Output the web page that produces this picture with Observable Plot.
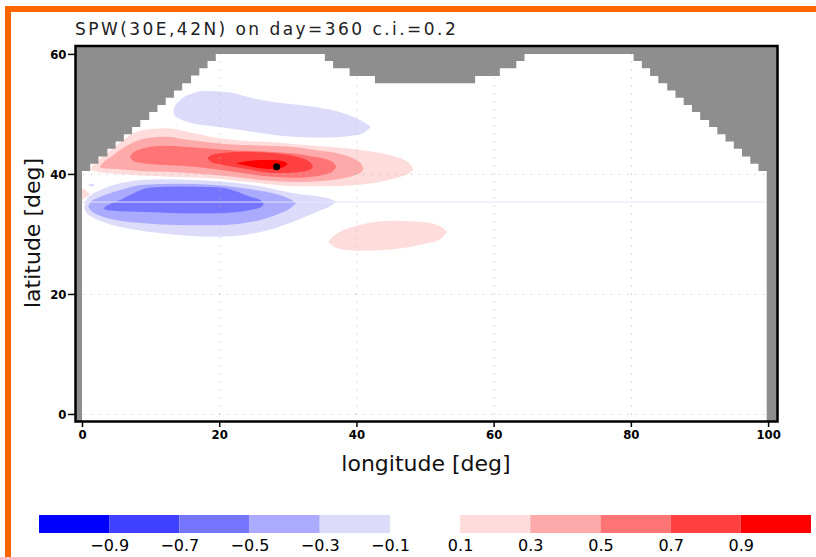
<!DOCTYPE html>
<html><head><meta charset="utf-8">
<script src="https://cdn.jsdelivr.net/npm/d3@7"></script>
<script src="https://cdn.jsdelivr.net/npm/@observablehq/plot@0.6"></script>
<style>
body{margin:0;background:#fff;}
#wrap{position:relative;width:816px;height:557px;overflow:hidden;background:#fff;font-family:"DejaVu Sans",sans-serif;}
#border{position:absolute;left:5px;top:6px;width:900px;height:700px;border-top:6px solid #ff6600;border-left:6px solid #ff6600;box-sizing:border-box;}
#title{position:absolute;left:75px;top:21px;font-size:17px;line-height:17px;letter-spacing:2.45px;color:#222;white-space:nowrap;}
#xlab{position:absolute;left:276px;width:300px;top:453px;font-size:22px;line-height:22px;text-align:center;color:#111;white-space:nowrap;}
#ylab{position:absolute;left:-67px;top:222px;width:200px;height:22px;font-size:22px;line-height:22px;text-align:center;color:#111;transform:rotate(-90deg);transform-origin:50% 50%;white-space:nowrap;}
#main{position:absolute;left:0;top:0;}
#cbar{position:absolute;left:0;top:503px;}
#main svg text{font-size:13px;font-weight:bold;}
</style></head>
<body><div id="wrap">
<div id="border"></div>
<div id="main"></div>
<div id="cbar"></div>
<div id="title">SPW(30E,42N) on day=360 c.i.=0.2</div>
<div id="xlab">longitude [deg]</div>
<div id="ylab">latitude [deg]</div>
</div>
<script>
// ---- axes / scales ----
const lonMin = -1.02, lonMax = 101.3, latMin = -1.17, latMax = 61.4;
const xTicks = [0, 20, 40, 60, 80, 100];
const yTicks = [0, 20, 40, 60];
const gridLon = [20, 40, 60, 80];
const gridLat = [0, 20, 40];
const faintLats = [35.4];

// contour levels (c.i. = 0.2) and colours
const thresholds = [-0.9, -0.7, -0.5, -0.3, -0.1, 0.1, 0.3, 0.5, 0.7, 0.9];
const levelColors = ["#0000ff", "#4040ff", "#7575ff", "#aaaaff", "#dcdcfa", "#ffffff",
                     "#ffdcdc", "#ffaaaa", "#ff7575", "#ff4040", "#ff0000"];
const cbLevels = [-1.1, -0.9, -0.7, -0.5, -0.3, -0.1, 0.1, 0.3, 0.5, 0.7, 0.9, 1.1];
const cbTicks = [-0.9, -0.7, -0.5, -0.3, -0.1, 0.1, 0.3, 0.5, 0.7, 0.9];

// reference point
const refPoint = [[28.3, 41.3]];

// ocean northern boundary (land mask, step-after) [lon, lat]
const coast = [
  [lonMin, latMin], [0, 40.5], [1.2, 41.7], [2.4, 42.9], [3.7, 44.2], [4.9, 45.4], [6.1, 46.6],
  [7.3, 47.8], [8.5, 49.0], [9.8, 50.3], [11.0, 51.5], [12.2, 52.7], [13.4, 53.9], [14.6, 55.1],
  [15.9, 56.4], [17.1, 57.6], [18.3, 58.8], [19.5, 60.0], [35.4, 58.8], [36.6, 57.6], [39.0, 56.3],
  [42.7, 55.1], [57.3, 56.3], [60.9, 57.6], [63.3, 58.8], [64.5, 60.0], [80.4, 58.8], [81.6, 57.6],
  [82.8, 56.3], [84.0, 55.1], [85.3, 53.9], [86.5, 52.7], [87.7, 51.5], [88.9, 50.3], [90.1, 49.0],
  [91.4, 47.8], [92.6, 46.6], [93.8, 45.4], [95.0, 44.2], [96.2, 42.9], [97.4, 41.7], [98.6, 40.5],
  [99.8, latMin], [lonMax, latMin]
];

// contour bands: rows [lon, southern lat, northern lat]
const upperBlue01 = [
  [13.3, 50.4, 50.4], [13.5, 49.7, 51.2], [14.2, 49.2, 52.2], [15.9, 48.5, 53.3], [17.9, 48.1, 53.8],
  [21.3, 47.6, 53.6], [25.0, 47.0, 52.6], [28.0, 46.5, 52.0], [30.8, 46.2, 51.6], [35.7, 46.05, 50.8],
  [39.1, 46.3, 49.7], [41.0, 46.8, 48.7], [42.1, 47.8, 47.8]
];
const red01 = [
  [1.3, 40.6, 41.0], [2.5, 40.3, 42.4], [4.0, 40.1, 43.8], [5.5, 39.95, 45.2], [7.0, 39.85, 46.5],
  [8.5, 39.75, 47.2], [10.1, 39.65, 47.5], [12.5, 39.55, 47.6], [15.5, 39.45, 47.0], [19.8, 39.2, 46.0],
  [24.0, 38.7, 45.5], [27.1, 38.3, 45.3], [30.8, 38.0, 45.0], [35.0, 37.95, 44.6], [40.5, 38.2, 44.0],
  [43.5, 38.7, 43.5], [45.4, 39.2, 43.0], [47.0, 39.8, 42.3], [47.8, 40.2, 41.6], [48.3, 40.8, 40.8]
];
const red03 = [
  [2.6, 41.2, 41.2], [3.0, 40.95, 41.8], [4.3, 40.85, 42.9], [6.7, 40.65, 44.8], [9.1, 40.45, 45.9],
  [12.1, 40.35, 46.2], [15.5, 40.15, 45.7], [21.3, 39.6, 44.95], [27.1, 38.9, 44.7], [30.8, 38.65, 44.5],
  [34.0, 38.75, 44.0], [38.1, 39.3, 43.2], [40.0, 39.9, 42.3], [40.8, 40.4, 41.5], [41.0, 40.95, 40.95]
];
const red05 = [
  [7.0, 42.9, 42.9], [7.4, 42.2, 43.5], [8.2, 41.9, 44.0], [9.1, 41.75, 44.3], [12.1, 41.5, 44.7],
  [16.4, 41.2, 44.4], [21.3, 40.5, 44.0], [27.1, 39.6, 43.7], [30.8, 39.35, 43.4], [33.2, 39.5, 43.0],
  [35.7, 40.0, 42.4], [36.6, 40.5, 41.9], [37.1, 41.2, 41.2]
];
const red07 = [
  [18.3, 42.6, 42.6], [18.8, 42.0, 43.1], [20.1, 41.6, 43.45], [23.5, 40.9, 43.7], [28.4, 40.15, 43.4],
  [31.5, 40.3, 42.8], [33.2, 40.7, 42.0], [33.7, 41.3, 41.3]
];
const red09 = [
  [22.5, 41.8, 41.8], [24.0, 41.35, 42.1], [26.0, 40.95, 42.3], [28.0, 40.8, 42.3], [29.3, 41.1, 42.1],
  [30.0, 41.7, 41.7]
];
const lowerBlue01 = [
  [0.3, 34.5, 34.5], [0.6, 33.6, 35.6], [1.5, 32.8, 36.6], [3.3, 31.9, 37.6], [6.7, 30.9, 38.7],
  [11.6, 30.1, 39.1], [15.0, 29.75, 39.05], [19.8, 29.55, 38.8], [25.9, 30.3, 37.95], [30.8, 32.05, 36.8],
  [34.7, 33.9, 36.2], [36.3, 34.7, 35.8], [37.0, 35.4, 35.4]
];
const lowerBlue03 = [
  [0.9, 34.55, 34.55], [1.3, 33.9, 35.4], [2.3, 33.2, 36.0], [5.2, 32.3, 37.2], [9.1, 31.8, 38.2],
  [14.0, 31.5, 38.35], [18.8, 31.45, 38.2], [23.0, 31.7, 37.7], [25.9, 32.3, 37.2], [28.8, 33.4, 36.5],
  [30.5, 34.4, 35.7], [31.2, 35.1, 35.1]
];
const lowerBlue05 = [
  [3.1, 34.3, 34.3], [3.6, 34.0, 34.7], [5.5, 33.8, 35.6], [7.9, 33.7, 37.0], [10.1, 33.6, 37.75],
  [14.0, 33.45, 37.9], [19.8, 33.45, 37.8], [22.2, 33.6, 37.2], [24.5, 34.0, 36.2], [26.0, 34.4, 35.6],
  [26.5, 35.0, 35.0]
];
const lowerPink01 = [
  [35.9, 28.7, 28.7], [36.5, 28.0, 29.5], [37.5, 27.55, 30.3], [40.5, 27.2, 31.5], [45.4, 27.45, 32.2],
  [49.3, 28.2, 32.05], [52.2, 29.1, 31.3], [53.2, 30.4, 30.4]
];
const coastPink01 = [[-0.2, 35.6, 37.8], [0.5, 36.0, 37.3], [1.2, 36.6, 36.6]];
const coastBlue01 = [[0.9, 38.1, 38.1], [1.4, 37.9, 38.4], [1.9, 38.1, 38.1]];

// band value (centre of contour interval) for each outline, drawn in this order
const bandList = [
  [upperBlue01, -0.2], [lowerBlue01, -0.2], [lowerBlue03, -0.4], [lowerBlue05, -0.6],
  [coastBlue01, -0.2], [coastPink01, 0.2], [lowerPink01, 0.2],
  [red01, 0.2], [red03, 0.4], [red05, 0.6], [red07, 0.8], [red09, 1.0]
];

const colorScale = {type: "threshold", domain: thresholds, range: levelColors};
const tickFont = "'DejaVu Sans Condensed', 'DejaVu Sans', sans-serif";

const bandMarks = bandList.map(([rows, v]) =>
  Plot.areaY(rows, {x: d => d[0], y1: d => d[1], y2: d => d[2], fill: () => v, curve: "monotone-x"})
);

const main = Plot.plot({
  width: 816, height: 500,
  marginLeft: 75, marginRight: 39, marginTop: 45.5, marginBottom: 79,
  x: {domain: [lonMin, lonMax]},
  y: {domain: [latMin, latMax]},
  color: colorScale,
  style: {fontFamily: tickFont, fontSize: "13px", background: "transparent", overflow: "visible"},
  marks: [
    ...bandMarks,
    Plot.ruleX(gridLon, {stroke: "#b8b8b8", strokeDasharray: "1,7", strokeWidth: 1}),
    Plot.ruleY(gridLat, {stroke: "#b8b8b8", strokeDasharray: "1,7", strokeWidth: 1}),
    Plot.ruleY(faintLats, {x1: 0, x2: 99.8, stroke: "#e4e4f7", strokeWidth: 1}),
    Plot.areaY(coast, {x: d => d[0], y1: d => d[1], y2: () => latMax, curve: "step-after", fill: "#8e8e8e"}),
    Plot.dot(refPoint, {x: d => d[0], y: d => d[1], r: 3.5, fill: "black"}),
    Plot.axisX({ticks: xTicks, tickSize: 6, tickPadding: 2, label: null, fontSize: 13, fontWeight: "bold", strokeWidth: 1.5}),
    Plot.axisY({ticks: yTicks, tickSize: 7, tickPadding: 2, label: null, fontSize: 13, fontWeight: "bold", strokeWidth: 1.5}),
    Plot.frame({stroke: "black", strokeWidth: 2.5})
  ]
});
document.getElementById("main").appendChild(main);

const cbBands = d3.pairs(cbLevels).map(([a, b]) => ({a, b, v: (a + b) / 2}));
const cbar = Plot.plot({
  width: 816, height: 54,
  marginLeft: 39, marginRight: 5, marginTop: 12, marginBottom: 24,
  x: {domain: [cbLevels[0], cbLevels[cbLevels.length - 1]]},
  y: {domain: [0, 1], axis: null},
  color: colorScale,
  style: {fontFamily: "'DejaVu Sans', sans-serif", fontSize: "16px", background: "transparent", overflow: "visible"},
  marks: [
    Plot.rect(cbBands, {x1: "a", x2: "b", y1: () => 0, y2: () => 1, fill: "v"}),
    Plot.axisX({ticks: cbTicks, tickSize: 0, tickPadding: 6, label: null, fontSize: 16, tickFormat: d3.format(".1f")})
  ]
});
document.getElementById("cbar").appendChild(cbar);
</script>
</body></html>
